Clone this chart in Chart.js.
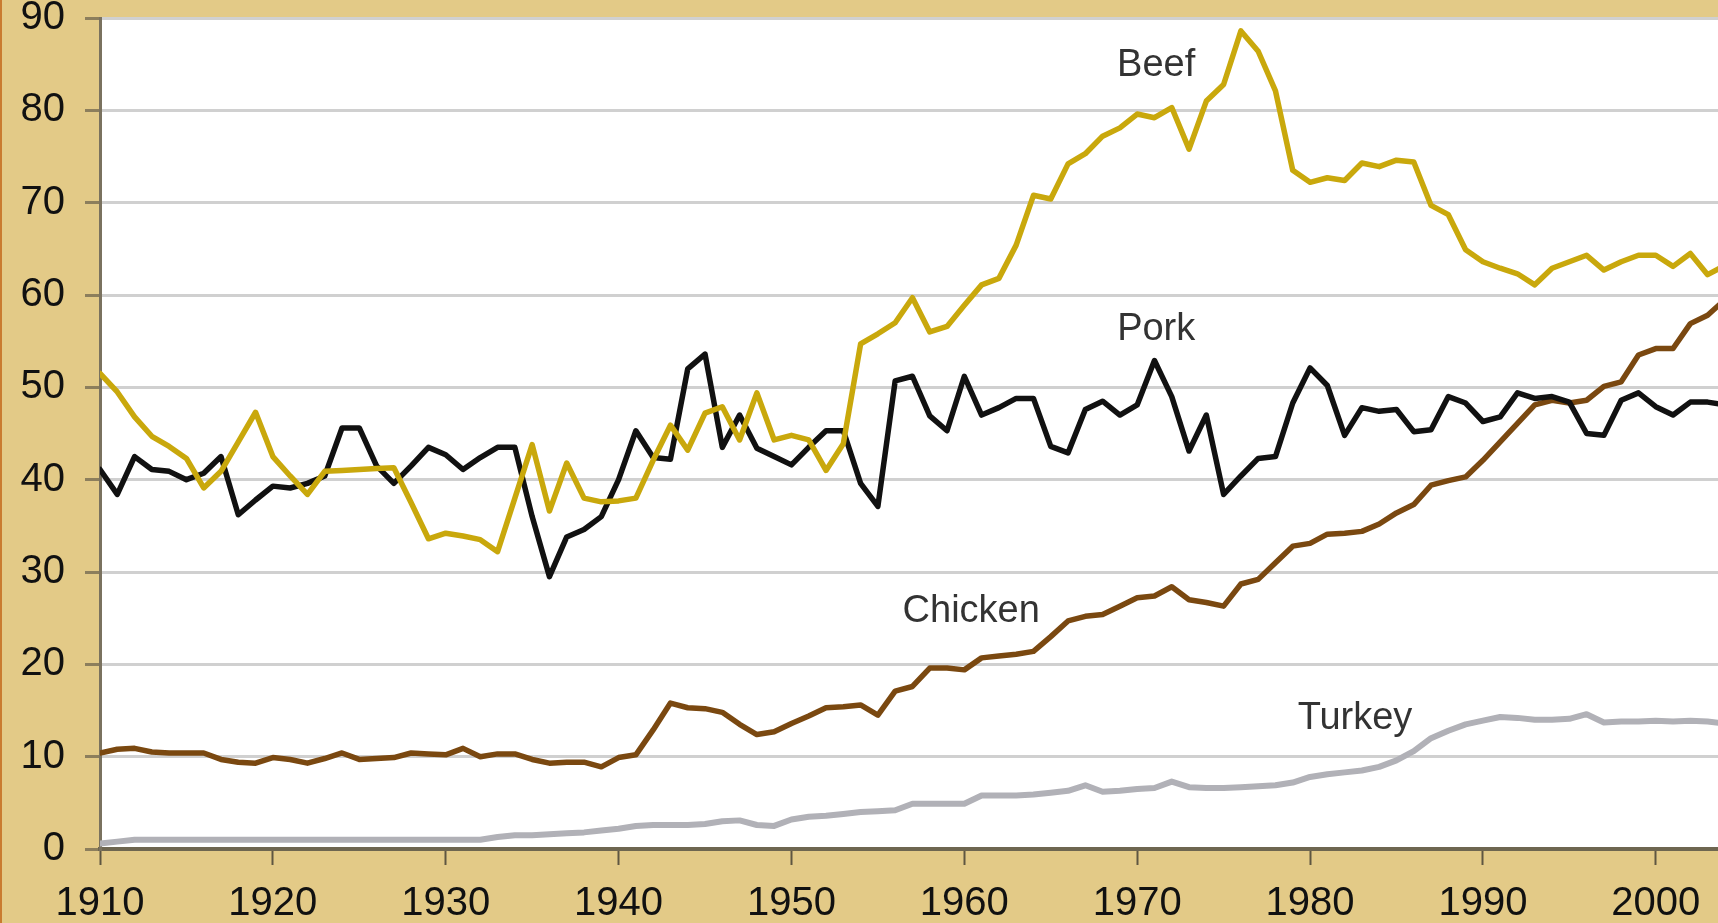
<!DOCTYPE html>
<html>
<head>
<meta charset="utf-8">
<title>Meat consumption</title>
<script src="https://cdn.jsdelivr.net/npm/chart.js@4.4.0/dist/chart.umd.min.js"></script>
<style>
  html, body { margin: 0; padding: 0; background: #E3CA87; overflow: hidden; }
  #meatChart { display: block; }
</style>
</head>
<body>
<canvas id="meatChart" width="1718" height="923"></canvas>
<script>
// Data, one value per year from 1910
const firstYear = 1910

const beef = [
  51.5, 49.5, 46.8, 44.7, 43.6, 42.3, 39.1, 40.9, 44.1, 47.3,
  42.5, 40.4, 38.4, 40.9, 41.0, 41.1, 41.2, 41.3, 37.5, 33.6,
  34.2, 33.9, 33.5, 32.2, 38.0, 43.8, 36.6, 41.8, 38.0, 37.6,
  37.7, 38.0, 42.1, 45.9, 43.2, 47.2, 47.9, 44.3, 49.4, 44.3,
  44.8, 44.3, 41.0, 43.9, 54.7, 55.8, 57.0, 59.7, 56.0, 56.6,
  58.9, 61.1, 61.8, 65.4, 70.8, 70.4, 74.2, 75.3, 77.2, 78.1,
  79.6, 79.2, 80.3, 75.8, 81.0, 82.8, 88.6, 86.4, 82.1, 73.5,
  72.2, 72.7, 72.4, 74.3, 73.9, 74.6, 74.4, 69.7, 68.7, 64.9,
  63.6, 62.9, 62.3, 61.1, 62.9, 63.6, 64.3, 62.7, 63.6, 64.3,
  64.3, 63.1, 64.5, 62.2, 63.2
]

const pork = [
  41.1, 38.4, 42.5, 41.1, 40.9, 40.0, 40.7, 42.5, 36.2, 37.8,
  39.3, 39.1, 39.6, 40.4, 45.6, 45.6, 41.5, 39.6, 41.5, 43.5,
  42.7, 41.1, 42.4, 43.5, 43.5, 36.0, 29.5, 33.8, 34.6, 36.0,
  40.0, 45.3, 42.4, 42.2, 52.0, 53.6, 43.5, 47.0, 43.4, 42.5,
  41.6, 43.5, 45.3, 45.3, 39.6, 37.1, 50.7, 51.2, 46.9, 45.3,
  51.2, 47.0, 47.8, 48.8, 48.8, 43.6, 42.9, 47.6, 48.5, 47.0,
  48.1, 52.9, 49.0, 43.1, 47.0, 38.4, 40.4, 42.3, 42.5, 48.3,
  52.1, 50.2, 44.8, 47.8, 47.4, 47.6, 45.2, 45.4, 49.0, 48.3,
  46.3, 46.8, 49.4, 48.8, 49.0, 48.4, 45.0, 44.8, 48.6, 49.4,
  47.9, 47.0, 48.4, 48.4, 48.1
]

const chicken = [
  10.4, 10.8, 10.9, 10.5, 10.4, 10.4, 10.4, 9.7, 9.4, 9.3,
  9.9, 9.7, 9.3, 9.8, 10.4, 9.7, 9.8, 9.9, 10.4, 10.3,
  10.2, 10.9, 10.0, 10.3, 10.3, 9.7, 9.3, 9.4, 9.4, 8.9,
  9.9, 10.2, 12.9, 15.8, 15.3, 15.2, 14.8, 13.5, 12.4, 12.7,
  13.6, 14.4, 15.3, 15.4, 15.6, 14.5, 17.1, 17.6, 19.6, 19.6,
  19.4, 20.7, 20.9, 21.1, 21.4, 23.0, 24.7, 25.2, 25.4, 26.3,
  27.2, 27.4, 28.4, 27.0, 26.7, 26.3, 28.7, 29.2, 31.0, 32.8,
  33.1, 34.1, 34.2, 34.4, 35.2, 36.4, 37.3, 39.4, 39.9, 40.3,
  42.1, 44.1, 46.1, 48.1, 48.6, 48.3, 48.6, 50.1, 50.6, 53.5,
  54.2, 54.2, 56.9, 57.8, 59.5
]

const turkey = [
  0.6, 0.8, 1.0, 1.0, 1.0, 1.0, 1.0, 1.0, 1.0, 1.0,
  1.0, 1.0, 1.0, 1.0, 1.0, 1.0, 1.0, 1.0, 1.0, 1.0,
  1.0, 1.0, 1.0, 1.3, 1.5, 1.5, 1.6, 1.7, 1.8, 2.0,
  2.2, 2.5, 2.6, 2.6, 2.6, 2.7, 3.0, 3.1, 2.6, 2.5,
  3.2, 3.5, 3.6, 3.8, 4.0, 4.1, 4.2, 4.9, 4.9, 4.9,
  4.9, 5.8, 5.8, 5.8, 5.9, 6.1, 6.3, 6.9, 6.2, 6.3,
  6.5, 6.6, 7.3, 6.7, 6.6, 6.6, 6.7, 6.8, 6.9, 7.2,
  7.8, 8.1, 8.3, 8.5, 8.9, 9.6, 10.6, 12.0, 12.8, 13.5,
  13.9, 14.3, 14.2, 14.0, 14.0, 14.1, 14.6, 13.7, 13.8, 13.8,
  13.9, 13.8, 13.9, 13.8, 13.6
]

const xTicks = [1910, 1920, 1930, 1940, 1950, 1960, 1970, 1980, 1990, 2000]
const yTicks = [0, 10, 20, 30, 40, 50, 60, 70, 80, 90]

// in-chart series names and where they sit (year, value)
const labelText = ["Beef", "Pork", "Chicken", "Turkey"]
const labelYear = [1971.1, 1971.1, 1960.4, 1982.6]
const labelValue = [84.9, 56.3, 25.7, 14.1]

const years = beef.map((_, i) => firstYear + i)
const toPoints = (arr) => arr.map((v, i) => ({ x: years[i], y: v }))

const font = '"Liberation Sans", Arial, Helvetica, sans-serif'

// white plot area + thin left edge
const plotBackground = {
  id: "plotBackground",
  beforeDraw(chart) {
    const { ctx, chartArea: a } = chart
    ctx.save()
    ctx.fillStyle = "#fff"
    ctx.fillRect(a.left, a.top, a.right - a.left, a.bottom - a.top)
    ctx.fillStyle = "#C97B30"
    ctx.fillRect(0, 0, 2, chart.height)
    ctx.restore()
  }
}

const seriesLabels = {
  id: "seriesLabels",
  afterDatasetsDraw(chart) {
    const { ctx, scales: { x, y } } = chart
    ctx.save()
    ctx.font = "38px " + font
    ctx.fillStyle = "#333"
    ctx.textAlign = "center"
    ctx.textBaseline = "middle"
    labelText.forEach((t, i) => {
      ctx.fillText(t, x.getPixelForValue(labelYear[i]), y.getPixelForValue(labelValue[i]))
    })
    ctx.restore()
  }
}

const line = (data, color, width) => ({
  data: toPoints(data),
  borderColor: color,
  borderWidth: width,
  borderJoinStyle: "round",
  borderCapStyle: "round",
  pointRadius: 0,
  tension: 0,
  fill: false
})

const ctx = document.querySelector("#meatChart").getContext("2d")

const chart = new Chart(ctx, {
  type: "line",
  data: {
    datasets: [
      line(turkey, "#B1B1B7", 6),
      line(beef, "#C9A80C", 5.5),
      line(pork, "#111111", 5.5),
      line(chicken, "#7A4810", 5.5)
    ]
  },
  options: {
    responsive: false,
    animation: false,
    devicePixelRatio: 1,
    layout: { padding: { top: 18, right: 0, left: 0, bottom: 0 } },
    plugins: {
      legend: { display: false },
      tooltip: { enabled: false }
    },
    scales: {
      x: {
        type: "linear",
        min: 1910,
        max: 2003.6,
        afterBuildTicks: (scale) => { scale.ticks = xTicks.map(v => ({ value: v })) },
        afterFit: (scale) => {
          scale.height = 74
          scale.paddingLeft = 0
          scale.paddingRight = 0
        },
        border: { display: true, color: "#6E6650", width: 4 },
        grid: {
          drawOnChartArea: false,
          drawTicks: true,
          tickLength: 16,
          tickColor: "#5E5641",
          tickWidth: 2
        },
        ticks: {
          color: "#111",
          padding: 15,
          maxRotation: 0,
          autoSkip: false,
          font: { family: font, size: 40 },
          callback: (v) => String(v)
        }
      },
      y: {
        min: 0,
        max: 90,
        afterBuildTicks: (scale) => { scale.ticks = yTicks.map(v => ({ value: v })) },
        afterFit: (scale) => {
          scale.width = 100
          scale.paddingTop = 0
          scale.paddingBottom = 0
        },
        border: { display: true, color: "#7A725F", width: 3 },
        grid: {
          color: "#D0D0D0",
          lineWidth: 3,
          drawTicks: true,
          tickLength: 15,
          tickColor: "#8C7E5C",
          tickWidth: 3
        },
        ticks: {
          color: "#111",
          padding: 20,
          font: { family: font, size: 40 },
          callback: (v) => String(v)
        }
      }
    }
  },
  plugins: [plotBackground, seriesLabels]
})
</script>
</body>
</html>
